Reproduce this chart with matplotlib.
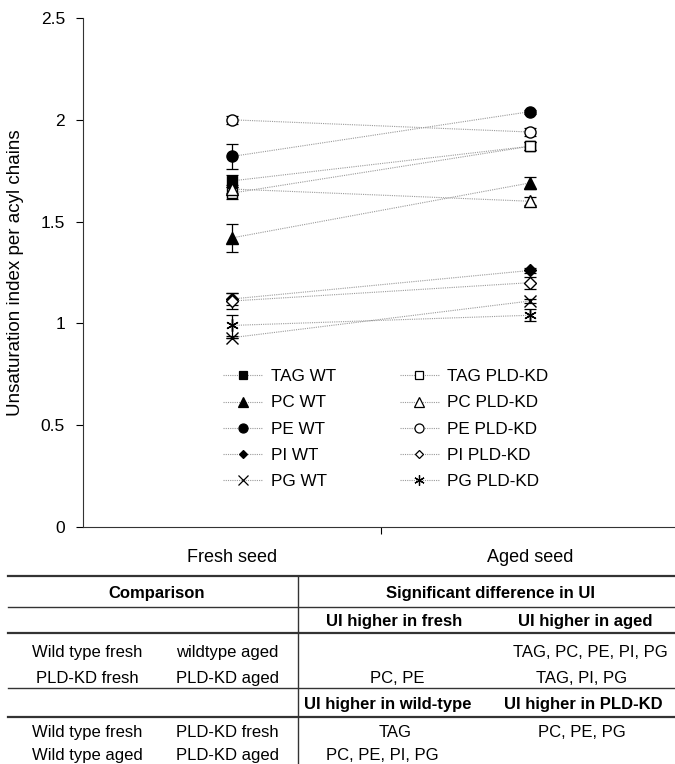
import matplotlib
matplotlib.use("Agg")
import matplotlib.pyplot as plt
from matplotlib.lines import Line2D

plt.rcParams['font.family'] = ['Liberation Sans', 'DejaVu Sans']

categories = ["Fresh seed", "Aged seed"]
series_names = ["TAG WT", "PC WT", "PE WT", "PI WT", "PG WT",
                "TAG PLD-KD", "PC PLD-KD", "PE PLD-KD", "PI PLD-KD", "PG PLD-KD"]
fresh_vals = [1.70, 1.42, 1.82, 1.12, 0.93, 1.64, 1.66, 2.00, 1.11, 0.99]
aged_vals = [1.87, 1.69, 2.04, 1.26, 1.11, 1.87, 1.60, 1.94, 1.20, 1.04]
fresh_err = [0.03, 0.07, 0.06, 0.03, 0.0, 0.03, 0.02, 0.02, 0.04, 0.05]
aged_err = [0.02, 0.03, 0.01, 0.01, 0.01, 0.02, 0.02, 0.02, 0.03, 0.03]

markers = ['s', '^', 'o', 'D', 'x', 's', '^', 'o', 'D', (6, 2, 0)]
filled = [True, True, True, True, True, False, False, False, False, False]
msizes = [7, 8, 8, 6, 8, 7, 8, 8, 6, 9]

fig = plt.figure(figsize=(6.75, 7.64), dpi=100)
ax = fig.add_axes([83/675, 1-527/764, 1-83/675, (527-18)/764])

xpos = [0.5, 1.5]
handles = []
for i, name in enumerate(series_names):
    ys = [fresh_vals[i], aged_vals[i]]
    es = [fresh_err[i], aged_err[i]]
    ax.plot(xpos, ys, linestyle=(0, (1, 1)), color='#9a9a9a', linewidth=0.8, zorder=1)
    ax.errorbar(xpos, ys, yerr=es, fmt='none', ecolor='black', elinewidth=0.9,
                capsize=4, capthick=0.9, zorder=2)
    mfc = 'black' if filled[i] else 'white'
    ax.plot(xpos, ys, linestyle='none', marker=markers[i], markersize=msizes[i],
            markerfacecolor=mfc, markeredgecolor='black', markeredgewidth=1.0, zorder=3)
    h = Line2D([], [], linestyle=(0, (1, 1)), color='#9a9a9a', linewidth=0.8,
               marker=markers[i], markersize=msizes[i]-1.5, markerfacecolor=mfc,
               markeredgecolor='black', markeredgewidth=0.9)
    handles.append(h)

ax.set_xlim(0, (675-83)/298)
ax.set_ylim(0, 2.5)
ax.set_yticks([0, 0.5, 1, 1.5, 2, 2.5])
ax.set_yticklabels(["0", "0.5", "1", "1.5", "2", "2.5"])
ax.set_xticks([1])
ax.set_xticklabels([""])
ax.set_xticks(xpos, minor=True)
ax.set_xticklabels(categories, minor=True)
ax.tick_params(axis='x', which='minor', length=0, pad=16, labelsize=13)
ax.tick_params(axis='x', which='major', length=5, direction='out', width=0.8)
ax.tick_params(axis='y', length=5, direction='out', width=0.8, labelsize=12.5, pad=8)
ax.spines['top'].set_visible(False)
ax.spines['right'].set_visible(False)
for s in ['left', 'bottom']:
    ax.spines[s].set_linewidth(0.8)
    ax.spines[s].set_color('#333333')
ax.set_ylabel("Unsaturation index per acyl chains", fontsize=13.5, labelpad=12)

leg = ax.legend(handles, series_names, ncol=2, loc='upper left',
                bbox_to_anchor=((208-83)/592, 1-(354-18)/509), frameon=False,
                fontsize=12.3, handlelength=2.3, columnspacing=3.7, labelspacing=0.65,
                handletextpad=0.5)

# Table
def hline(y, lw=1.2):
    fig.add_artist(Line2D([8/675, 1.0], [1-y/764, 1-y/764], color='#333333', linewidth=lw))

hline(576, 1.6)
hline(607, 1.0)
hline(633, 1.6)
hline(688, 1.0)
hline(717, 1.6)
fig.add_artist(Line2D([298/675, 298/675], [1-576/764, 0], color='#333333', linewidth=1.0))

def t(x, y, s, bold=False):
    fig.text(x/675, 1-y/764, s, ha='center', va='center_baseline', fontsize=12,
             fontweight='bold' if bold else 'normal')

t(157, 592, "Comparison", True)
t(490, 592, "Significant difference in UI", True)
t(394, 620, "UI higher in fresh", True)
t(585, 620, "UI higher in aged", True)
t(87, 651, "Wild type fresh")
t(227, 651, "wildtype aged")
t(590, 651, "TAG, PC, PE, PI, PG")
t(87, 677, "PLD-KD fresh")
t(227, 677, "PLD-KD aged")
t(397, 677, "PC, PE")
t(582, 677, "TAG, PI, PG")
t(388, 703, "UI higher in wild-type", True)
t(583, 703, "UI higher in PLD-KD", True)
t(87, 731, "Wild type fresh")
t(227, 731, "PLD-KD fresh")
t(395, 731, "TAG")
t(582, 731, "PC, PE, PG")
t(87, 754, "Wild type aged")
t(227, 754, "PLD-KD aged")
t(382, 754, "PC, PE, PI, PG")

fig.savefig("out.png", dpi=100)
